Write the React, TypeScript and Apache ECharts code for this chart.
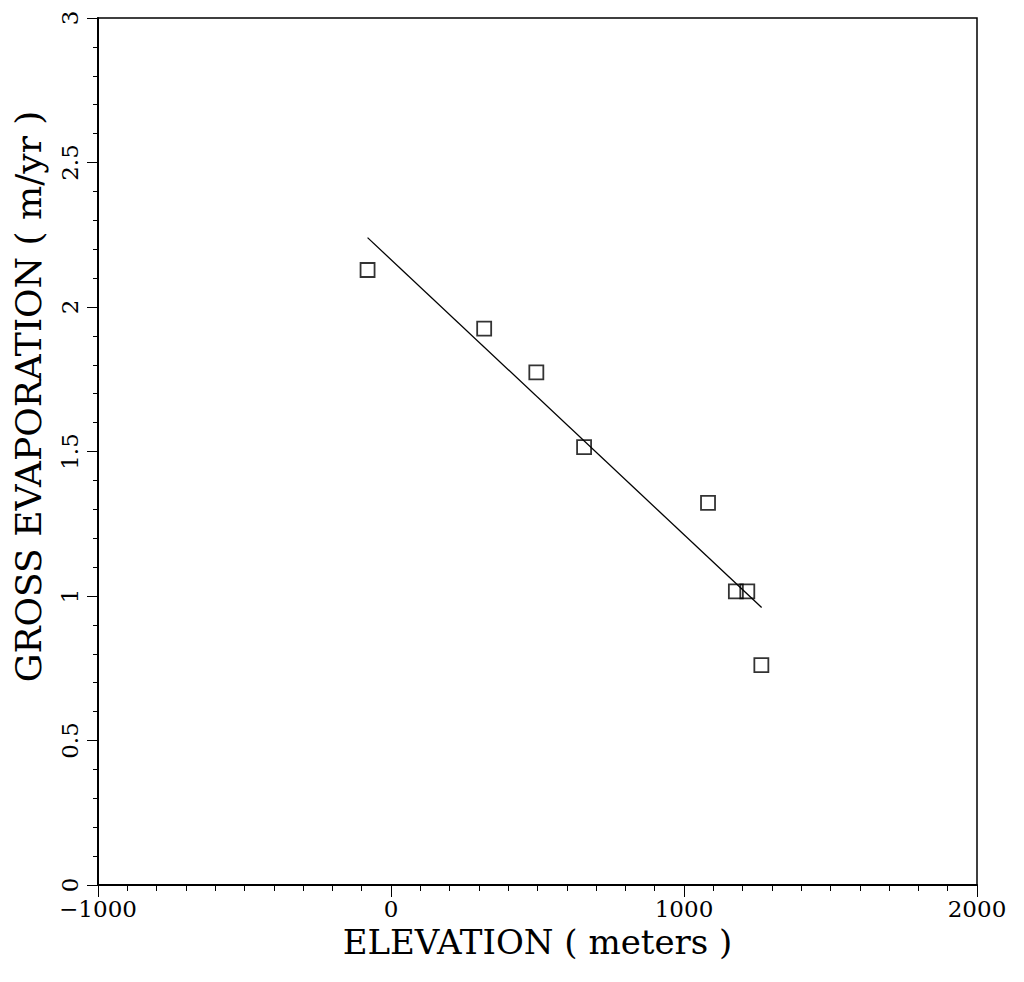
import React, { useEffect, useRef } from "react";
import * as echarts from "echarts";

const elevation = [-80, 318, 496, 659, 1082, 1177, 1216, 1264];
const evaporation = [2.128, 1.925, 1.774, 1.515, 1.322, 1.016, 1.016, 0.761];
const fitLine = [
  [-80, 2.24],
  [1265, 0.96],
];

const FONT = "DejaVu Serif";

export default function App() {
  const ref = useRef<HTMLDivElement>(null);
  useEffect(() => {
    if (!ref.current) return;
    const chart = echarts.init(ref.current, null, { renderer: "svg" });
    chart.setOption({
      animation: false,
      backgroundColor: "#fff",
      grid: {
        left: 90,
        right: 39,
        top: 10,
        bottom: 89,
        show: true,
        borderColor: "#000",
        borderWidth: 1.5,
        outerBoundsMode: "none",
      },
      xAxis: {
        type: "value",
        min: -1000,
        max: 2000,
        interval: 1000,
        name: "ELEVATION ( meters )",
        nameLocation: "middle",
        nameGap: 36,
        nameTextStyle: { fontFamily: FONT, fontSize: 34, color: "#000" },
        axisLine: { show: true, onZero: false, lineStyle: { color: "#000", width: 2 } },
        axisTick: { show: true, inside: false, length: 12, lineStyle: { color: "#000", width: 1 } },
        minorTick: { show: true, splitNumber: 10, length: 6, lineStyle: { color: "#000", width: 1 } },
        splitLine: { show: false },
        axisLabel: {
          fontFamily: FONT,
          fontSize: 23,
          color: "#000",
          margin: 12,
          formatter: (v: number) => String(v).replace("-", "\u2212"),
        },
      },
      yAxis: {
        type: "value",
        min: 0,
        max: 3,
        interval: 0.5,
        name: "GROSS EVAPORATION ( m/yr )",
        nameLocation: "middle",
        nameGap: 52,
        nameTextStyle: { fontFamily: FONT, fontSize: 36, color: "#000", padding: [0, 0, 0, 110] },
        axisLine: { show: true, onZero: false, lineStyle: { color: "#000", width: 2 } },
        axisTick: { show: true, inside: false, length: 11, lineStyle: { color: "#000", width: 1 } },
        minorTick: { show: true, splitNumber: 5, length: 5, lineStyle: { color: "#000", width: 1 } },
        splitLine: { show: false },
        axisLabel: {
          fontFamily: FONT,
          fontSize: 23,
          color: "#000",
          rotate: 90,
          margin: 17,
          formatter: (v: number) => String(v),
        },
      },
      series: [
        {
          type: "line",
          data: fitLine,
          showSymbol: false,
          symbol: "none",
          lineStyle: { color: "#000", width: 1.3 },
          z: 2,
        },
        {
          type: "scatter",
          data: elevation.map((x, i) => [x, evaporation[i]]),
          symbol: "rect",
          symbolSize: 14,
          itemStyle: { color: "rgba(255,255,255,0)", borderColor: "#000", borderWidth: 1.8 },
          z: 3,
        },
      ],
    });
    return () => chart.dispose();
  }, []);
  return <div ref={ref} style={{ width: 1008, height: 966 }} />;
}
